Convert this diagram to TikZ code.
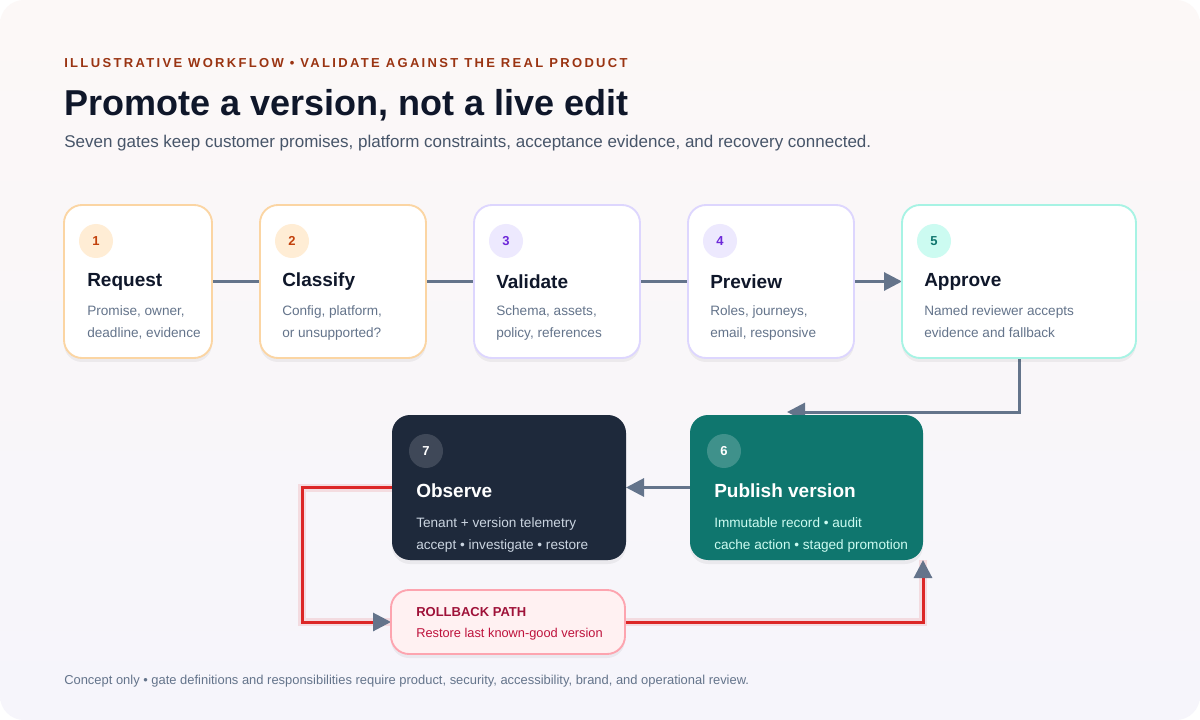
\documentclass[tikz,border=0pt]{standalone}
\usepackage{fontspec}
\setmainfont{Liberation Sans}
\usetikzlibrary{arrows.meta, positioning, shadows}
\definecolor{ink}{HTML}{0F172A}
\definecolor{slate}{HTML}{64748B}
\definecolor{subtle}{HTML}{475569}
\definecolor{rust}{HTML}{9A3412}
\definecolor{peach}{HTML}{FBD5A3}
\definecolor{peachfill}{HTML}{FFEDD5}
\definecolor{peachnum}{HTML}{C2410C}
\definecolor{lilac}{HTML}{DDD6FE}
\definecolor{lilacfill}{HTML}{EDE9FE}
\definecolor{lilacnum}{HTML}{6D28D9}
\definecolor{mint}{HTML}{A7F3E4}
\definecolor{mintfill}{HTML}{CCFBF1}
\definecolor{mintnum}{HTML}{0F766E}
\definecolor{teal}{HTML}{0F766E}
\definecolor{navy}{HTML}{1E293B}
\definecolor{navytext}{HTML}{CBD5E1}
\definecolor{alarm}{HTML}{DC2626}
\definecolor{rosefill}{HTML}{FFF1F2}
\definecolor{roseline}{HTML}{FDA4AF}
\definecolor{rosetitle}{HTML}{9F1239}
\definecolor{rosetext}{HTML}{BE123C}
\definecolor{cardtop}{HTML}{FCF8F7}
\definecolor{cardbottom}{HTML}{F6F5FB}
\pgfdeclarelayer{back}
\pgfdeclarelayer{edges}
\pgfsetlayers{back,edges,main}
\tikzset{
  gate/.style = {rectangle, draw, line width=1.4pt, rounded corners=13.5pt, fill=white, minimum height=114.75pt, inner sep=0pt, outer sep=0pt,
    drop shadow={shadow xshift=0pt, shadow yshift=-3pt, opacity=.05, fill=black}},
  badge/.style = {circle, minimum size=25.5pt, inner sep=0pt, font=\fontsize{9.75}{10}\selectfont\bfseries},
  gatetitle/.style = {anchor=west, inner sep=0pt, text=ink, font=\fontsize{14.25}{16}\selectfont\bfseries},
  gatetext/.style = {anchor=north west, inner sep=0pt, align=left, text=slate, font=\fontsize{10.2}{16.5}\selectfont},
  flow/.style = {draw=slate, line width=2.25pt},
  arrow/.style = {flow, -{Triangle[length=13.5pt, width=13.5pt]}},
  redline/.style = {draw=alarm, line width=2.25pt},
  glow/.style = {draw=alarm, line width=6pt, opacity=.12},
}

\begin{document}
\begin{tikzpicture}[x=0.75pt, y=-0.75pt, node distance=36pt]

  \useasboundingbox (0,0) rectangle (1200,720);
  \begin{pgfonlayer}{back}
    \fill[white] (0,0) rectangle (1200,720);
    \shade[rounded corners=18pt, top color=cardtop, bottom color=cardbottom] (0,0) rectangle (1200,720);
  \end{pgfonlayer}

  % header
  \node (kicker) [anchor=west, inner sep=0pt, text=rust, font=\fontsize{9.75}{10}\selectfont\bfseries\addfontfeature{LetterSpace=18}] at (64,63)
    {ILLUSTRATIVE WORKFLOW • VALIDATE AGAINST THE REAL PRODUCT};
  \node (title) [anchor=west, inner sep=0pt, text=ink, font=\fontsize{27}{29}\selectfont\bfseries] at (64,105)
    {Promote a version, not a live edit};
  \node (subtitle) [anchor=west, inner sep=0pt, text=subtle, font=\fontsize{12.75}{14}\selectfont] at (64,143)
    {Seven gates keep customer promises, platform constraints, acceptance evidence, and recovery connected.};

  % top row of gates
  \node (g1) [gate, draw=peach, minimum width=111pt, anchor=north west] at (64,205) {};
  \node (g2) [gate, draw=peach, minimum width=124.5pt, right=of g1] {};
  \node (g3) [gate, draw=lilac, minimum width=124.5pt, right=of g2] {};
  \node (g4) [gate, draw=lilac, minimum width=124.5pt, right=of g3] {};
  \node (g5) [gate, draw=mint, minimum width=175.5pt, right=of g4] {};

  % bottom row
  \node (g7) [gate, draw=none, fill=navy, minimum width=175.5pt, minimum height=108.75pt, anchor=north west] at (392,415) {};
  \node (g6) [gate, draw=none, fill=teal, minimum width=174.75pt, minimum height=108.75pt, right=48pt of g7] {};
  \node (rb) [gate, draw=roseline, fill=rosefill, minimum width=175.5pt, minimum height=48pt, anchor=north west] at (391,590) {};

  % badges
  \node (b1) [badge, fill=peachfill, text=peachnum] at ([shift={(32,36)}]g1.north west) {1};
  \node (b2) [badge, fill=peachfill, text=peachnum] at ([shift={(32,36)}]g2.north west) {2};
  \node (b3) [badge, fill=lilacfill, text=lilacnum] at ([shift={(32,36)}]g3.north west) {3};
  \node (b4) [badge, fill=lilacfill, text=lilacnum] at ([shift={(32,36)}]g4.north west) {4};
  \node (b5) [badge, fill=mintfill, text=mintnum] at ([shift={(32,36)}]g5.north west) {5};
  \node (b6) [badge, fill=white, fill opacity=.2, text opacity=1, text=white] at ([shift={(34,36)}]g6.north west) {6};
  \node (b7) [badge, fill=white, fill opacity=.15, text opacity=1, text=white] at ([shift={(34,36)}]g7.north west) {7};

  % titles
  \node (t1) [gatetitle] at ([shift={(23,77)}]g1.north west) {Request};
  \node (t2) [gatetitle] at ([shift={(22,77)}]g2.north west) {Classify};
  \node (t3) [gatetitle] at ([shift={(22,77)}]g3.north west) {Validate};
  \node (t4) [gatetitle] at ([shift={(22,77)}]g4.north west) {Preview};
  \node (t5) [gatetitle] at ([shift={(22,77)}]g5.north west) {Approve};
  \node (t6) [gatetitle, text=white] at ([shift={(24,76)}]g6.north west) {Publish version};
  \node (t7) [gatetitle, text=white] at ([shift={(24,76)}]g7.north west) {Observe};

  % descriptions
  \node (d1) [gatetext] at ([shift={(23,100)}]g1.north west) {Promise, owner,\\deadline, evidence};
  \node (d2) [gatetext] at ([shift={(22,100)}]g2.north west) {Config, platform,\\or unsupported?};
  \node (d3) [gatetext] at ([shift={(22,100)}]g3.north west) {Schema, assets,\\policy, references};
  \node (d4) [gatetext] at ([shift={(22,100)}]g4.north west) {Roles, journeys,\\email, responsive};
  \node (d5) [gatetext] at ([shift={(22,100)}]g5.north west) {Named reviewer accepts\\evidence and fallback};
  \node (d6) [gatetext, text=mintfill] at ([shift={(24,102)}]g6.north west) {Immutable record • audit\\cache action • staged promotion};
  \node (d7) [gatetext, text=navytext] at ([shift={(24,102)}]g7.north west) {Tenant + version telemetry\\accept • investigate • restore};

  % rollback text
  \node (rbt) [anchor=west, inner sep=0pt, text=rosetitle, font=\fontsize{9.75}{10}\selectfont\bfseries] at ([shift={(25,22)}]rb.north west) {ROLLBACK PATH};
  \node (rbd) [anchor=west, inner sep=0pt, text=rosetext, font=\fontsize{9.6}{10}\selectfont] at ([shift={(25,44)}]rb.north west) {Restore last known-good version};

  % footer
  \node (foot) [anchor=west, inner sep=0pt, text=slate, font=\fontsize{9.7}{10}\selectfont] at (64,681)
    {Concept only • gate definitions and responsibilities require product, security, accessibility, brand, and operational review.};

  \coordinate (drop) at (787,412);
  \coordinate (left) at (302,622);

  \begin{pgfonlayer}{edges}
    \draw [flow] (g1) -- (g2);
    \draw [flow] (g2) -- (g3);
    \draw [flow] (g3) -- (g4);
    \draw [arrow] (g4) -- (g5);
    \draw [arrow] (g5.south) |- (drop);
    \draw [arrow] (g6) -- (g7);
    \draw [glow] (g7.west) -| (left) -- (rb.west);
    \draw [glow] (rb.east) -| (g6.south east);
    \draw [redline, -{Triangle[length=13.5pt, width=13.5pt, color=slate]}] (g7.west) -| (left) -- (rb.west);
    \draw [redline, -{Triangle[length=13.5pt, width=13.5pt, color=slate]}] (rb.east) -| (g6.south east);
  \end{pgfonlayer}

\end{tikzpicture}
\end{document}
